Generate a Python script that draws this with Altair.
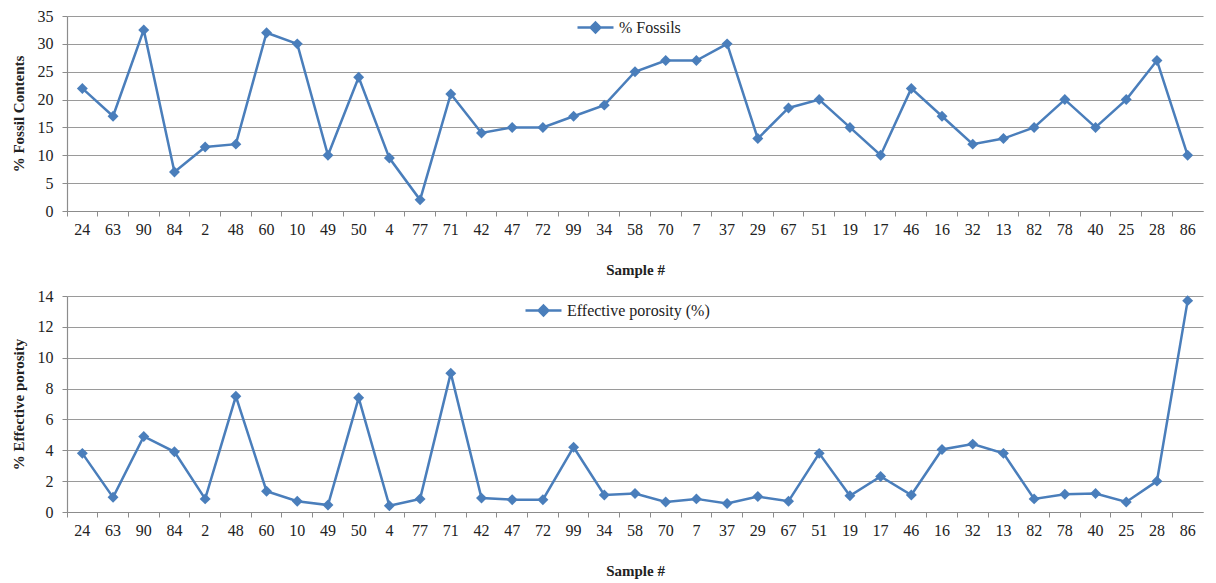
import altair as alt
import pandas as pd

samples = ["24", "63", "90", "84", "2", "48", "60", "10", "49", "50", "4", "77", "71",
           "42", "47", "72", "99", "34", "58", "70", "7", "37", "29", "67", "51", "19",
           "17", "46", "16", "32", "13", "82", "78", "40", "25", "28", "86"]
fossils = [22, 17, 32.5, 7, 11.5, 12, 32, 30, 10, 24, 9.5, 2, 21,
           14, 15, 15, 17, 19, 25, 27, 27, 30, 13, 18.5, 20, 15,
           10, 22, 17, 12, 13, 15, 20, 15, 20, 27, 10]
porosity = [3.8, 0.95, 4.9, 3.9, 0.85, 7.5, 1.35, 0.7, 0.45, 7.4, 0.4, 0.85, 9.0,
            0.9, 0.8, 0.8, 4.2, 1.1, 1.2, 0.65, 0.85, 0.55, 1.0, 0.7, 3.8, 1.05,
            2.3, 1.1, 4.05, 4.4, 3.8, 0.85, 1.15, 1.2, 0.65, 2.0, 13.7]
fossil_ticks = [0, 5, 10, 15, 20, 25, 30, 35]
porosity_ticks = [0, 2, 4, 6, 8, 10, 12, 14]

df = pd.DataFrame({"sample": samples, "fossils": fossils, "porosity": porosity})

BLUE = "#4a7ebb"
SERIF = "Liberation Serif"
LEG_PATH = "M-1,0L1,0M0,-0.27L0.27,0L0,0.27L-0.27,0Z"


def panel(field, ytitle, ticks, height, series, lx, ly):
    return (
        alt.Chart(df)
        .transform_calculate(series=f"'{series}'")
        .mark_line(strokeWidth=2.5, point=alt.OverlayMarkDef(shape="diamond", size=120, filled=True, opacity=1))
        .encode(
            x=alt.X(
                "sample:N",
                sort=samples,
                bandPosition=0.5,
                scale=alt.Scale(type="band", paddingInner=0, paddingOuter=0),
                axis=alt.Axis(
                    title="Sample #",
                    labelAngle=0,
                    bandPosition=0,
                    grid=False,
                    tickSize=5,
                    labelPadding=5,
                    titlePadding=25,
                ),
            ),
            y=alt.Y(
                f"{field}:Q",
                scale=alt.Scale(domain=[ticks[0], ticks[-1]], nice=False),
                axis=alt.Axis(
                    title=ytitle,
                    values=ticks,
                    grid=True,
                    tickSize=5,
                    labelPadding=9,
                    titlePadding=11,
                ),
            ),
            color=alt.Color(
                "series:N",
                scale=alt.Scale(range=[BLUE]),
                legend=alt.Legend(
                    title=None,
                    orient="none",
                    legendX=lx,
                    legendY=ly,
                    padding=0,
                    symbolType=LEG_PATH,
                    symbolSize=1296,
                    symbolStrokeWidth=2.5,
                    symbolStrokeColor=BLUE,
                    symbolFillColor=BLUE,
                    labelFont=SERIF,
                    labelFontSize=16,
                    labelColor="#222222",
                    labelOffset=4,
                ),
            ),
        )
        .properties(width=1136, height=height)
    )


top = panel("fossils", "% Fossil Contents", fossil_ticks, 195, "% Fossils", 509, -8)
bottom = panel("porosity", "% Effective porosity", porosity_ticks, 216, "Effective porosity (%)", 457, -5)

chart = (
    alt.vconcat(top, bottom, spacing=85, bounds="flush")
    .resolve_scale(color="independent")
    .resolve_legend(color="independent")
    .properties(padding={"left": 3, "top": 0, "right": 5, "bottom": 5})
    .configure_view(stroke=None)
    .configure_axis(
        labelFont=SERIF,
        labelFontSize=16,
        labelColor="#222222",
        titleFont=SERIF,
        titleFontSize=15,
        titleFontWeight="bold",
        titleColor="#222222",
        domainColor="#8c8c8c",
        tickColor="#8c8c8c",
        gridColor="#9a9a9a",
        gridWidth=1.2,
        domainWidth=1.2,
    )
)

chart.save("out.html", embed_options={"renderer": "svg", "actions": False})
